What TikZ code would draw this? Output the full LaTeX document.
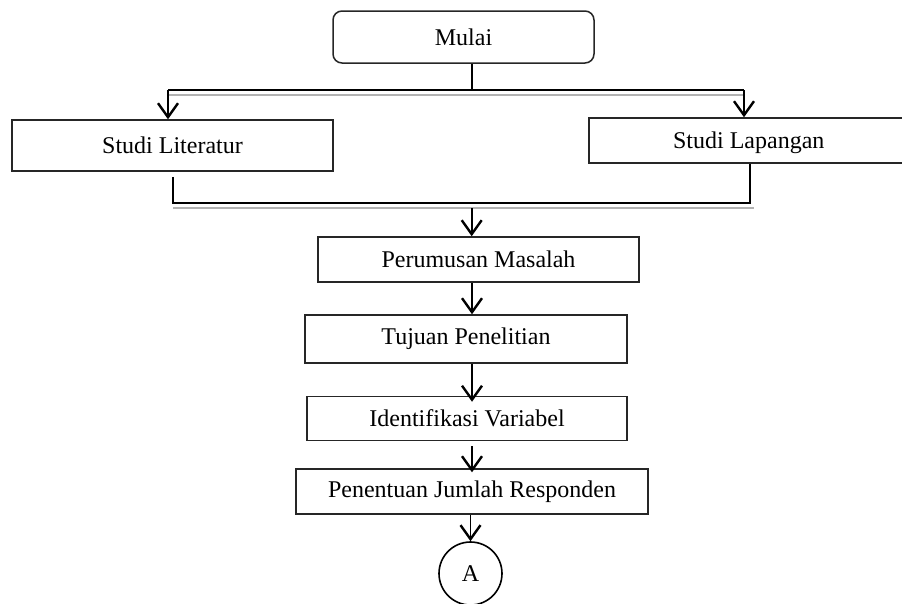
\documentclass[tikz,border=0pt]{standalone}
\usepackage{fontspec}
\setmainfont{Liberation Serif}
\usetikzlibrary{arrows.meta}
\begin{document}
\begin{tikzpicture}[x=1pt,y=-1pt,
  box/.style={draw=black!85,line width=1.5pt,rectangle,inner sep=0pt,font=\fontsize{24}{28}\selectfont},
  startbox/.style={box,rounded corners=9pt},
  conn/.style={line width=1.6pt},
  arr/.style={line width=1.6pt,-{Straight Barb[length=14pt,width=20pt,line width=2.4pt]}},
  shade/.style={line width=1.3pt,black!30}]
\useasboundingbox (0,0) rectangle (902,603);
\node[startbox,minimum width=261pt,minimum height=52pt] (mulai) at (463.5,37) {Mulai};
\node[box,minimum width=321pt,minimum height=51pt] (lit) at (172.5,145.5) {Studi Literatur};
\node[box,minimum width=320pt,minimum height=45pt,anchor=west] (lap) at (588,140.5) {\rule{0pt}{22pt}Studi Lapangan};
\node[box,minimum width=321pt,minimum height=45pt] (rum) at (478.5,259.5) {Perumusan Masalah};
\node[box,minimum width=322pt,minimum height=48pt] (tuj) at (466,339) {Tujuan Penelitian};
\node[box,minimum width=320pt,minimum height=44pt] (ide) at (467,418.5) {Identifikasi Variabel};
\node[box,minimum width=352pt,minimum height=45pt] (pen) at (472,491.5) {Penentuan Jumlah Responden};
\node[draw=black,line width=1.6pt,circle,minimum size=63pt,inner sep=0pt,font=\fontsize{24}{28}\selectfont] (A) at (470.5,573.5) {A};

% top split
\coordinate (t0) at (471.7,90);
\coordinate (tl) at (168,90);
\coordinate (tr) at (744,90);
\draw[conn] (mulai.south -| t0) -- (t0);
\draw[conn] (tl) -- (tr);
\draw[shade] (168,95) -- (744,95);
\draw[arr] (tl) -- (lit.north -| tl);
\draw[arr] (tr) -- (lap.north -| tr);

% bottom join
\coordinate (bl) at (173,203);
\coordinate (br) at (750,203);
\coordinate (bm) at (471.7,208);
\draw[conn] (lit.south -| bl) ++(0,5) -- (bl) -- (br) -- (lap.south -| br);
\draw[shade] (173,208) -- (754,208);
\draw[arr] (bm) -- (rum.north -| bm);

% chain
\coordinate (c1) at (472,0);
\draw[arr] (rum.south -| c1) -- (tuj.north -| c1);
\draw[arr] (tuj.south -| c1) -- ([yshift=-6pt]ide.north -| c1);
\draw[arr] ([yshift=-5pt]ide.south -| c1) -- ([yshift=-4pt]pen.north -| c1);
\draw[arr] (pen.south -| A) -- (A.north);
\end{tikzpicture}
\end{document}
